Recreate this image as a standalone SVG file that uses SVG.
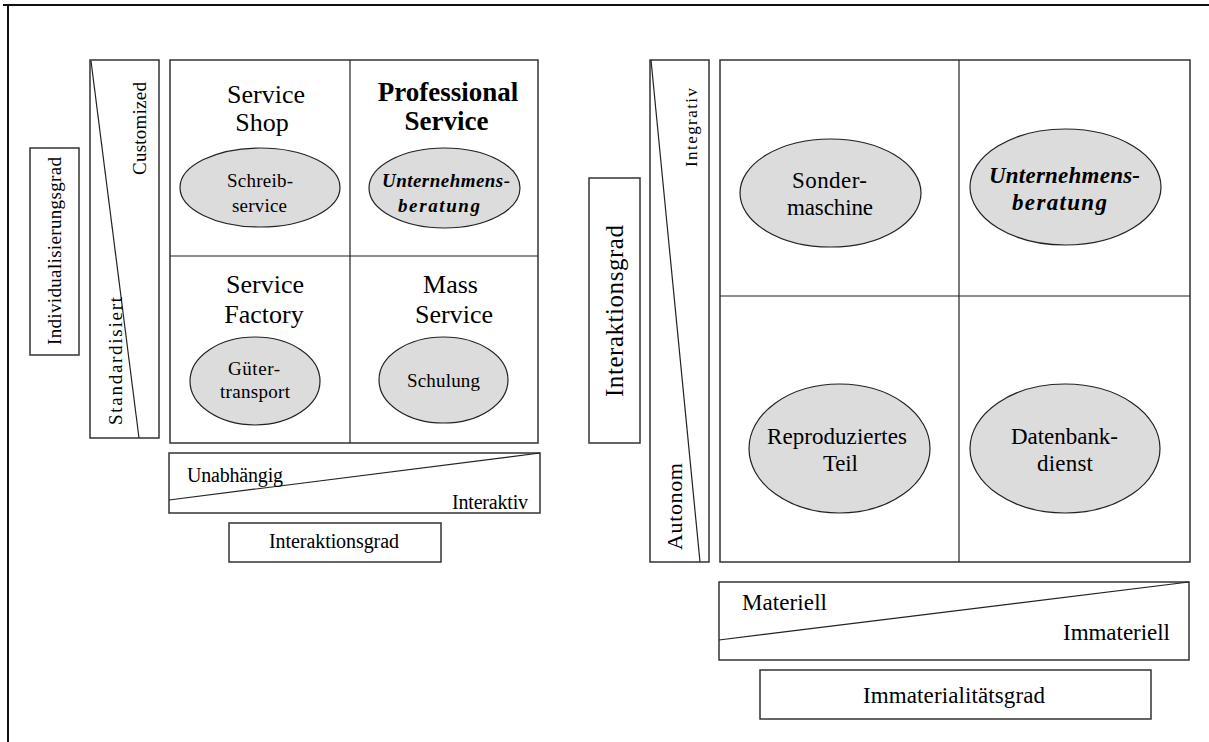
<svg xmlns="http://www.w3.org/2000/svg" width="1209" height="742" viewBox="0 0 1209 742">
<style>
.box{fill:#fff;stroke:#333;stroke-width:1.5}
.ell{fill:#dcdcdc;stroke:#222;stroke-width:1.2}
.ln{stroke:#222;stroke-width:1.2;fill:none}
</style>
<rect width="1209" height="742" fill="#fff"/>
<g id="frame">
<line x1="3" y1="5" x2="1209" y2="5" stroke="#111" stroke-width="2"/>
<line x1="8" y1="4" x2="8" y2="742" stroke="#111" stroke-width="2"/>
</g>

<g id="left-matrix">
<rect class="box" x="170" y="60" width="368" height="383"/>
<line class="ln" x1="350" y1="60" x2="350" y2="443" stroke-width="1.5"/>
<line class="ln" x1="170" y1="256" x2="538" y2="256" stroke-width="1.5"/>
</g>
<g font-family="Liberation Serif, serif" fill="#000">
<g id="service-shop" text-anchor="middle">
<text x="266" y="103" font-size="26">Service</text>
<text x="262" y="131" font-size="26">Shop</text>
<ellipse class="ell" cx="260" cy="187.5" rx="80" ry="39.5"/>
<text x="260" y="187" font-size="19" textLength="66" lengthAdjust="spacing">Schreib-</text>
<text x="259.5" y="212" font-size="19" textLength="55" lengthAdjust="spacing">service</text>
</g>
<g id="professional-service" text-anchor="middle">
<text x="448" y="101" font-size="27" font-weight="bold">Professional</text>
<text x="446.5" y="130" font-size="27" font-weight="bold">Service</text>
<ellipse class="ell" cx="444.5" cy="188" rx="75.5" ry="40"/>
<text x="446" y="187" font-size="19" font-weight="bold" font-style="italic" textLength="128" lengthAdjust="spacing">Unternehmens-</text>
<text x="439" y="212" font-size="19" font-weight="bold" font-style="italic" textLength="82" lengthAdjust="spacing">beratung</text>
</g>
<g id="service-factory" text-anchor="middle">
<text x="265" y="293" font-size="26">Service</text>
<text x="264" y="323" font-size="26">Factory</text>
<ellipse class="ell" cx="255" cy="381" rx="65" ry="44"/>
<text x="254" y="375" font-size="19" textLength="52" lengthAdjust="spacing">Güter-</text>
<text x="255" y="398" font-size="19" textLength="70" lengthAdjust="spacing">transport</text>
</g>
<g id="mass-service" text-anchor="middle">
<text x="450.5" y="293" font-size="26">Mass</text>
<text x="454" y="323" font-size="26">Service</text>
<ellipse class="ell" cx="443.5" cy="380" rx="64.5" ry="43"/>
<text x="443.5" y="387" font-size="19" textLength="73" lengthAdjust="spacing">Schulung</text>
</g>

<g id="left-axis-individualisierung" text-anchor="middle">
<rect class="box" x="30" y="148" width="49" height="207"/>
<text font-size="19" transform="translate(61,251) rotate(-90)" textLength="188" lengthAdjust="spacing">Individualisierungsgrad</text>
</g>
<g id="left-axis-scale" text-anchor="middle">
<rect class="box" x="90" y="60" width="69" height="378"/>
<line class="ln" x1="91" y1="61" x2="139" y2="438"/>
<text font-size="19" transform="translate(146,128.5) rotate(-90)" textLength="93" lengthAdjust="spacing">Customized</text>
<text font-size="19" transform="translate(122,361) rotate(-90)" textLength="128" lengthAdjust="spacing">Standardisiert</text>
</g>
<g id="left-axis-interaktion-scale">
<rect class="box" x="169" y="453" width="371" height="60"/>
<line class="ln" x1="169" y1="500" x2="540" y2="453"/>
<text font-size="20" x="187" y="482" textLength="96" lengthAdjust="spacing">Unabhängig</text>
<text font-size="20" x="452" y="509" textLength="76" lengthAdjust="spacing">Interaktiv</text>
</g>
<g id="left-axis-interaktionsgrad">
<rect class="box" x="229" y="523" width="212" height="39"/>
<text font-size="20" x="269" y="548" textLength="130" lengthAdjust="spacing">Interaktionsgrad</text>
</g>

<g id="right-matrix">
<rect class="box" x="720" y="60" width="470" height="502"/>
<line class="ln" x1="959" y1="60" x2="959" y2="562" stroke-width="1.5"/>
<line class="ln" x1="720" y1="296" x2="1190" y2="296" stroke-width="1.5"/>
</g>
<g id="sondermaschine" text-anchor="middle">
<ellipse class="ell" cx="830.5" cy="193" rx="90.5" ry="54"/>
<text x="829.5" y="188" font-size="23" textLength="75" lengthAdjust="spacing">Sonder-</text>
<text x="830" y="215" font-size="23" textLength="86" lengthAdjust="spacing">maschine</text>
</g>
<g id="unternehmensberatung-right" text-anchor="middle">
<ellipse class="ell" cx="1065.5" cy="187" rx="95.5" ry="58"/>
<text x="1064.5" y="183" font-size="23" font-weight="bold" font-style="italic" textLength="151" lengthAdjust="spacing">Unternehmens-</text>
<text x="1059.5" y="210" font-size="23" font-weight="bold" font-style="italic" textLength="95" lengthAdjust="spacing">beratung</text>
</g>
<g id="reproduziertes-teil" text-anchor="middle">
<ellipse class="ell" cx="839.5" cy="448.5" rx="90.5" ry="64.5"/>
<text x="837" y="444" font-size="23" textLength="140" lengthAdjust="spacing">Reproduziertes</text>
<text x="840.5" y="471" font-size="23" textLength="35" lengthAdjust="spacing">Teil</text>
</g>
<g id="datenbankdienst" text-anchor="middle">
<ellipse class="ell" cx="1065" cy="448.5" rx="95" ry="64.5"/>
<text x="1064.5" y="444" font-size="23" textLength="107" lengthAdjust="spacing">Datenbank-</text>
<text x="1065" y="471" font-size="23" textLength="56" lengthAdjust="spacing">dienst</text>
</g>

<g id="right-axis-interaktionsgrad" text-anchor="middle">
<rect class="box" x="589" y="178" width="51" height="265"/>
<text font-size="25" transform="translate(623,311) rotate(-90)" textLength="172" lengthAdjust="spacing">Interaktionsgrad</text>
</g>
<g id="right-axis-scale" text-anchor="middle">
<rect class="box" x="650" y="60" width="59" height="502"/>
<line class="ln" x1="651" y1="60" x2="700" y2="562"/>
<text font-size="17" transform="translate(697,127.5) rotate(-90)" textLength="79" lengthAdjust="spacing">Integrativ</text>
<text font-size="22" transform="translate(682,506.5) rotate(-90)" textLength="87" lengthAdjust="spacing">Autonom</text>
</g>
<g id="right-axis-immaterialitaet-scale">
<rect class="box" x="719" y="582" width="470" height="78"/>
<line class="ln" x1="719" y1="640" x2="1189" y2="582"/>
<text font-size="23" x="742" y="610" textLength="85" lengthAdjust="spacing">Materiell</text>
<text font-size="23" x="1063" y="640" textLength="107" lengthAdjust="spacing">Immateriell</text>
</g>
<g id="right-axis-immaterialitaetsgrad">
<rect class="box" x="760" y="670" width="391" height="49"/>
<text font-size="23" x="863" y="703" textLength="182" lengthAdjust="spacing">Immaterialitätsgrad</text>
</g>
</g>
<g id="connectors"/>
</svg>
